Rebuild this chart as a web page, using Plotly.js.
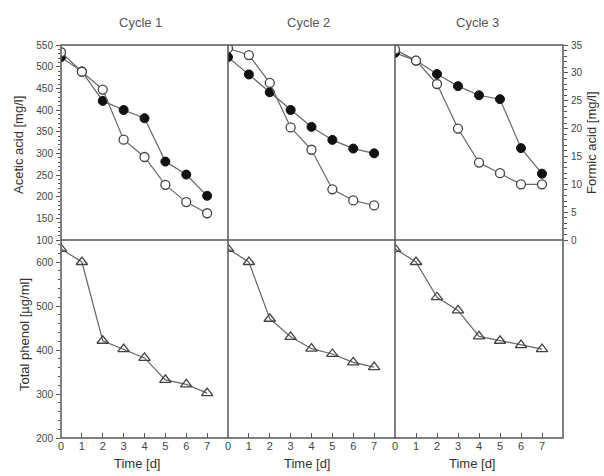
<!DOCTYPE html>
<html><head><meta charset="utf-8">
<script src="https://cdn.plot.ly/plotly-3.0.1.min.js"></script>
<style>html,body{margin:0;padding:0;background:#fff}#chart{width:604px;height:476px}</style>
</head><body><div id="chart"></div>
<script>
const days = [0, 1, 2, 3, 4, 5, 6, 7];
const cycles = ["Cycle 1", "Cycle 2", "Cycle 3"];
const aceticC1 = [522, 489, 421, 400, 381, 281, 251, 202];
const aceticC2 = [522, 482, 441, 400, 361, 331, 311, 300];
const aceticC3 = [532, 514, 483, 455, 434, 425, 312, 253];
const formicC1 = [33.7, 30.2, 27.0, 18.0, 14.9, 9.9, 6.8, 4.8];
const formicC2 = [34.4, 33.2, 28.2, 20.2, 16.2, 9.1, 7.1, 6.2];
const formicC3 = [34.2, 32.2, 28.0, 20.0, 13.9, 12.0, 10.0, 10.0];
const phenolC1 = [630, 600, 421, 402, 382, 332, 322, 302];
const phenolC2 = [630, 600, 471, 430, 403, 391, 372, 361];
const phenolC3 = [630, 600, 520, 490, 431, 421, 411, 402];

const acetic = [aceticC1, aceticC2, aceticC3];
const formic = [formicC1, formicC2, formicC3];
const phenol = [phenolC1, phenolC2, phenolC3];

const xa = ['x', 'x2', 'x3'];
const lineCol = '#666';
const txt = '#444';
const fnt = 'Liberation Sans Narrow, Arial Narrow, Liberation Sans, Arial, sans-serif';
const data = [];
for (let i = 0; i < 3; i++) {
  data.push({x: days, y: formic[i], xaxis: xa[i], yaxis: 'y2', mode: 'lines+markers',
    line: {color: lineCol, width: 1.2},
    marker: {symbol: 'circle', size: 9, color: '#fff', line: {color: '#444', width: 1.3}}});
  data.push({x: days, y: acetic[i], xaxis: xa[i], yaxis: 'y', mode: 'lines+markers',
    line: {color: lineCol, width: 1.2},
    marker: {symbol: 'circle', size: 9, color: '#111', line: {color: '#111', width: 1}}});
  data.push({x: days, y: phenol[i], xaxis: xa[i], yaxis: 'y3', mode: 'lines+markers',
    line: {color: lineCol, width: 1.2},
    marker: {symbol: 'triangle-up-open', size: 10, color: '#444', line: {width: 1.3}}});
}

const d1 = 167 / 502, d2 = 334 / 502, ym = 198 / 393;
const xBase = {range: [0, 8], tickvals: days, ticktext: days.map(String), ticks: 'inside', ticklen: 5,
  tickcolor: '#555', showgrid: false, zeroline: false, showline: false, anchor: 'y3',
  tickfont: {family: fnt, size: 11, color: txt}, fixedrange: true};
const yBase = {showgrid: false, zeroline: false, showline: false, ticks: 'outside', ticklen: 4,
  tickcolor: '#555', tickfont: {family: fnt, size: 10, color: txt}, fixedrange: true, ticklabelstandoff: 1};
const minorStyle = {ticks: 'outside', ticklen: 2.5, tickcolor: '#555', tickwidth: 1};

const layout = {
  width: 604, height: 476, showlegend: false, hovermode: false,
  paper_bgcolor: '#fff', plot_bgcolor: '#fff',
  margin: {l: 61, r: 41, t: 45, b: 38},
  xaxis: Object.assign({}, xBase, {domain: [0, d1]}),
  xaxis2: Object.assign({}, xBase, {domain: [d1, d2]}),
  xaxis3: Object.assign({}, xBase, {domain: [d2, 1]}),
  yaxis: Object.assign({}, yBase, {domain: [ym, 1], anchor: 'x', range: [100, 550], dtick: 50,
    minor: Object.assign({dtick: 10}, minorStyle)}),
  yaxis2: Object.assign({}, yBase, {overlaying: 'y', side: 'right', anchor: 'x3', range: [0, 35], dtick: 5,
    minor: Object.assign({dtick: 1}, minorStyle)}),
  yaxis3: Object.assign({}, yBase, {domain: [0, ym], anchor: 'x', range: [200, 650], tickvals: [200, 300, 400, 500, 600],
    minor: Object.assign({dtick: 20}, minorStyle)}),
  yaxis4: Object.assign({}, yBase, {overlaying: 'y3', side: 'right', anchor: 'x3', range: [200, 650], tickvals: [200, 300, 400, 500, 600],
    minor: Object.assign({dtick: 20}, minorStyle)}),
  shapes: [
    {type: 'rect', xref: 'paper', yref: 'paper', x0: 0, x1: 1, y0: 0, y1: 1, line: {color: '#555', width: 1.5}},
    {type: 'line', xref: 'paper', yref: 'paper', x0: 0, x1: 1, y0: ym, y1: ym, line: {color: '#555', width: 1.5}},
    {type: 'line', xref: 'paper', yref: 'paper', x0: d1, x1: d1, y0: 0, y1: 1, line: {color: '#555', width: 1.5}},
    {type: 'line', xref: 'paper', yref: 'paper', x0: d2, x1: d2, y0: 0, y1: 1, line: {color: '#555', width: 1.5}}
  ],
  annotations: []
};
const cx = [140, 308, 477];
const tx = [137, 307, 472];
for (let i = 0; i < 3; i++) {
  layout.annotations.push({text: cycles[i], xref: 'paper', yref: 'paper', x: (cx[i] - 61) / 502, y: (438 - 22) / 393,
    showarrow: false, xanchor: 'center', yanchor: 'middle', font: {family: fnt, size: 13, color: '#555'}});
  layout.annotations.push({text: 'Time [d]', xref: 'paper', yref: 'paper', x: (tx[i] - 61) / 502, y: (438 - 463) / 393,
    showarrow: false, xanchor: 'center', yanchor: 'middle', font: {family: fnt, size: 13, color: '#333'}});
}
layout.annotations.push({text: 'Acetic acid [mg/l]', xref: 'paper', yref: 'paper', x: (18 - 61) / 502, y: (438 - 145) / 393,
  showarrow: false, textangle: -90, xanchor: 'center', yanchor: 'middle', font: {family: fnt, size: 13, color: '#333'}});
layout.annotations.push({text: 'Total phenol [µg/ml]', xref: 'paper', yref: 'paper', x: (24 - 61) / 502, y: (438 - 335) / 393,
  showarrow: false, textangle: -90, xanchor: 'center', yanchor: 'middle', font: {family: fnt, size: 13, color: '#333'}});
layout.annotations.push({text: 'Formic acid [mg/l]', xref: 'paper', yref: 'paper', x: (591 - 61) / 502, y: (438 - 143) / 393,
  showarrow: false, textangle: -90, xanchor: 'center', yanchor: 'middle', font: {family: fnt, size: 13, color: '#333'}});

Plotly.newPlot('chart', data, layout, {displayModeBar: false, staticPlot: true});
</script></body></html>
